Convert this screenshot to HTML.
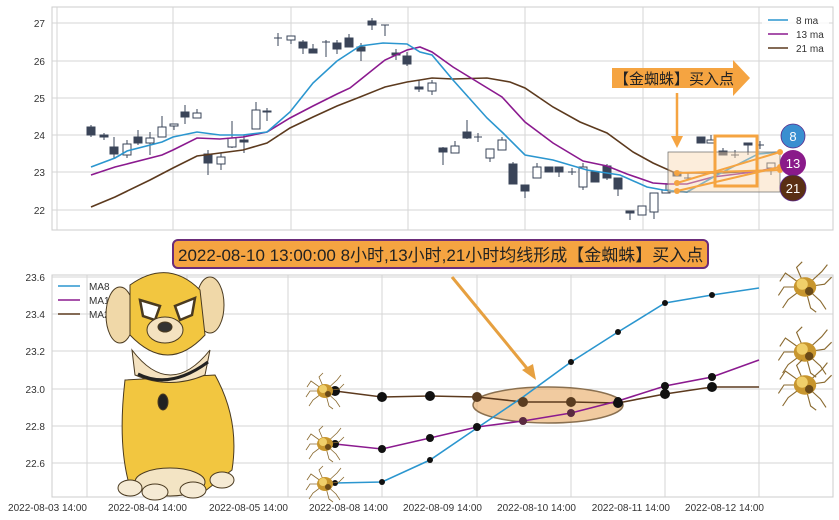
<!DOCTYPE html>
<html><head><meta charset="utf-8"><style>
html,body{margin:0;padding:0;background:#fff;width:839px;height:520px;overflow:hidden}
svg text{font-family:"Liberation Sans","Noto Sans CJK SC",sans-serif}
</style></head><body>
<svg width="839" height="520" viewBox="0 0 839 520" xmlns="http://www.w3.org/2000/svg">
<defs>
<g id="spider">
<g stroke="#8a6a30" stroke-width="0.8" fill="none">
<path d="M0 0 L-14 -10 L-18 -4"/><path d="M0 0 L-15 0 L-19 6"/><path d="M0 0 L-12 9 L-16 15"/><path d="M0 0 L-6 -14 L-2 -18"/>
<path d="M0 0 L12 -11 L16 -16"/><path d="M0 0 L14 -2 L19 -7"/><path d="M0 0 L11 10 L15 16"/><path d="M0 0 L4 15 L8 18"/>
</g>
<ellipse cx="0" cy="0" rx="8" ry="7" fill="#c8962e"/><circle cx="-2" cy="-2" r="4" fill="#f0cf6a"/><circle cx="3" cy="3" r="3" fill="#6a4a18"/>
</g>
</defs>

<!-- TOP PANEL -->
<rect x="52" y="7" width="781" height="223" fill="#fff" stroke="#ccc"/>
<g stroke="#d5d5d5" stroke-width="1">
<line x1="57" y1="7" x2="57" y2="230"/><line x1="173" y1="7" x2="173" y2="230"/><line x1="291" y1="7" x2="291" y2="230"/><line x1="408" y1="7" x2="408" y2="230"/><line x1="525" y1="7" x2="525" y2="230"/><line x1="643" y1="7" x2="643" y2="230"/><line x1="759" y1="7" x2="759" y2="230"/>
<line x1="52" y1="23" x2="833" y2="23"/><line x1="52" y1="61" x2="833" y2="61"/><line x1="52" y1="98" x2="833" y2="98"/><line x1="52" y1="135" x2="833" y2="135"/><line x1="52" y1="172" x2="833" y2="172"/><line x1="52" y1="210" x2="833" y2="210"/>
</g>
<g font-size="10" fill="#333" text-anchor="end">
<text x="45" y="27">27</text><text x="45" y="65">26</text><text x="45" y="102">25</text><text x="45" y="139">24</text><text x="45" y="176">23</text><text x="45" y="214">22</text>
</g>
<!-- candles -->
<g stroke="#3a4458" stroke-width="1">
<script type="text/plain"></script>
</g>
<g id="candles" stroke="#3a4458" stroke-width="1">
<line x1="91" y1="125" x2="91" y2="137"/><rect x="87" y="127" width="8" height="8" fill="#3a4458"/>
<line x1="104" y1="133" x2="104" y2="140"/><rect x="100" y="135" width="8" height="2" fill="#3a4458"/>
<line x1="114" y1="137" x2="114" y2="158"/><rect x="110" y="147" width="8" height="7" fill="#3a4458"/>
<line x1="127" y1="140" x2="127" y2="158"/><rect x="123" y="144" width="8" height="11" fill="#fff"/>
<line x1="138" y1="130" x2="138" y2="145"/><rect x="134" y="137" width="8" height="6" fill="#3a4458"/>
<line x1="150" y1="132" x2="150" y2="155"/><rect x="146" y="138" width="8" height="5" fill="#fff"/>
<line x1="162" y1="116" x2="162" y2="137"/><rect x="158" y="127" width="8" height="10" fill="#fff"/>
<line x1="174" y1="124" x2="174" y2="130"/><rect x="170" y="124" width="8" height="2" fill="#fff"/>
<line x1="185" y1="105" x2="185" y2="124"/><rect x="181" y="112" width="8" height="5" fill="#3a4458"/>
<line x1="197" y1="109" x2="197" y2="118"/><rect x="193" y="113" width="8" height="5" fill="#fff"/>
<line x1="208" y1="150" x2="208" y2="175"/><rect x="204" y="154" width="8" height="9" fill="#3a4458"/>
<line x1="221" y1="153" x2="221" y2="170"/><rect x="217" y="157" width="8" height="7" fill="#fff"/>
<line x1="232" y1="121" x2="232" y2="148"/><rect x="228" y="138" width="8" height="9" fill="#fff"/>
<line x1="244" y1="135" x2="244" y2="153"/><rect x="240" y="140" width="8" height="2" fill="#3a4458"/>
<line x1="256" y1="102" x2="256" y2="129"/><rect x="252" y="110" width="8" height="19" fill="#fff"/>
<line x1="267" y1="108" x2="267" y2="121"/><rect x="263" y="111" width="8" height="1" fill="#3a4458"/>
<line x1="278" y1="33" x2="278" y2="46"/><line x1="274" y1="38" x2="282" y2="38"/>
<line x1="291" y1="36" x2="291" y2="44"/><rect x="287" y="36" width="8" height="4" fill="#fff"/>
<line x1="303" y1="40" x2="303" y2="54"/><rect x="299" y="42" width="8" height="6" fill="#3a4458"/>
<line x1="313" y1="44" x2="313" y2="53"/><rect x="309" y="49" width="8" height="4" fill="#3a4458"/>
<line x1="326" y1="40" x2="326" y2="57"/><line x1="322" y1="42" x2="330" y2="42"/>
<line x1="337" y1="40" x2="337" y2="54"/><rect x="333" y="43" width="8" height="6" fill="#3a4458"/>
<line x1="349" y1="34" x2="349" y2="47"/><rect x="345" y="38" width="8" height="9" fill="#3a4458"/>
<line x1="361" y1="43" x2="361" y2="61"/><rect x="357" y="47" width="8" height="4" fill="#3a4458"/>
<line x1="372" y1="18" x2="372" y2="30"/><rect x="368" y="21" width="8" height="4" fill="#3a4458"/>
<line x1="385" y1="25" x2="385" y2="36"/><line x1="381" y1="25" x2="389" y2="25"/>
<line x1="396" y1="49" x2="396" y2="60"/><rect x="392" y="53" width="8" height="2" fill="#3a4458"/>
<line x1="407" y1="52" x2="407" y2="66"/><rect x="403" y="56" width="8" height="8" fill="#3a4458"/>
<line x1="419" y1="80" x2="419" y2="92"/><rect x="415" y="87" width="8" height="2" fill="#3a4458"/>
<line x1="432" y1="80" x2="432" y2="95"/><rect x="428" y="83" width="8" height="8" fill="#fff"/>
<line x1="443" y1="147" x2="443" y2="165"/><rect x="439" y="148" width="8" height="4" fill="#3a4458"/>
<line x1="455" y1="141" x2="455" y2="153"/><rect x="451" y="146" width="8" height="7" fill="#fff"/>
<line x1="467" y1="120" x2="467" y2="139"/><rect x="463" y="132" width="8" height="6" fill="#3a4458"/>
<line x1="478" y1="133" x2="478" y2="142"/><line x1="474" y1="137" x2="482" y2="137"/>
<line x1="490" y1="149" x2="490" y2="162"/><rect x="486" y="149" width="8" height="9" fill="#fff"/>
<line x1="502" y1="137" x2="502" y2="150"/><rect x="498" y="140" width="8" height="10" fill="#fff"/>
<line x1="513" y1="162" x2="513" y2="184"/><rect x="509" y="164" width="8" height="20" fill="#3a4458"/>
<line x1="525" y1="185" x2="525" y2="198"/><rect x="521" y="185" width="8" height="6" fill="#3a4458"/>
<line x1="537" y1="163" x2="537" y2="178"/><rect x="533" y="167" width="8" height="11" fill="#fff"/>
<rect x="545" y="167" width="8" height="5" fill="#3a4458"/>
<line x1="559" y1="167" x2="559" y2="177"/><rect x="555" y="167" width="8" height="5" fill="#3a4458"/>
<line x1="572" y1="168" x2="572" y2="175"/><line x1="568" y1="172" x2="576" y2="172"/>
<line x1="583" y1="163" x2="583" y2="190"/><rect x="579" y="167" width="8" height="20" fill="#fff"/>
<rect x="591" y="172" width="8" height="10" fill="#3a4458"/>
<line x1="607" y1="164" x2="607" y2="180"/><rect x="603" y="166" width="8" height="12" fill="#3a4458"/>
<line x1="618" y1="178" x2="618" y2="196"/><rect x="614" y="178" width="8" height="11" fill="#3a4458"/>
<line x1="630" y1="211" x2="630" y2="220"/><rect x="626" y="211" width="8" height="2" fill="#3a4458"/>
<rect x="638" y="206" width="8" height="9" fill="#fff"/>
<line x1="654" y1="193" x2="654" y2="219"/><rect x="650" y="193" width="8" height="19" fill="#fff"/>
<line x1="666" y1="183" x2="666" y2="193"/><rect x="662" y="190" width="8" height="3" fill="#fff"/>
<rect x="673" y="172" width="8" height="4" fill="#3a4458"/>
<line x1="688" y1="173" x2="688" y2="180"/><line x1="684" y1="178" x2="692" y2="178"/>
<rect x="697" y="137" width="8" height="6" fill="#3a4458"/>
<line x1="711" y1="135" x2="711" y2="143"/><rect x="707" y="140" width="8" height="3" fill="#fff"/>
<line x1="723" y1="148" x2="723" y2="155"/><rect x="719" y="151" width="8" height="4" fill="#3a4458"/>
<line x1="735" y1="150" x2="735" y2="158"/><line x1="731" y1="155" x2="739" y2="155"/>
<line x1="748" y1="143" x2="748" y2="155"/><rect x="744" y="143" width="8" height="2" fill="#3a4458"/>
<line x1="760" y1="141" x2="760" y2="149"/><line x1="756" y1="145" x2="764" y2="145"/>
<line x1="771" y1="163" x2="771" y2="175"/><rect x="767" y="163" width="8" height="5" fill="#fff"/>
</g>
<!-- MA lines top -->
<g fill="none" stroke-width="1.6">
<polyline stroke="#5c3a1e" points="91,207 115,197 150,180 173,168 197,156 220,153 243,150 267,143 290,128 313,117 337,106 360,97 385,87 407,82 420,80 432,78 453,79 487,78 510,82 525,88 553,107 580,122 607,133 633,152 653,163 673,172 687,173 720,173 780,170"/>
<polyline stroke="#8b1a8f" points="91,175 115,167 127,164 162,155 173,150 197,138 220,139 243,137 267,132 290,118 313,106 337,94 350,88 360,80 385,60 407,50 420,47 432,52 453,67 502,97 525,122 553,143 583,161 607,166 627,174 653,183 667,184 687,184 713,177 753,172 780,167"/>
<polyline stroke="#2b96cf" points="91,167 115,158 127,151 162,142 173,137 197,132 220,135 243,135 267,132 290,112 313,83 337,61 360,46 383,43 407,44 420,52 432,55 453,80 487,118 503,133 525,155 553,160 587,170 620,175 647,187 663,190 687,192 717,175 758,154 780,152"/>
</g>
<!-- annotations top -->
<rect x="668" y="152" width="112" height="40" fill="#f8d6b0" fill-opacity="0.45" stroke="#666" stroke-width="0.7"/>
<rect x="715" y="136" width="42" height="50" fill="none" stroke="#f5a441" stroke-width="3"/>
<g stroke="#f5a441" stroke-width="2">
<line x1="677" y1="173" x2="780" y2="170"/><line x1="677" y1="183" x2="780" y2="152"/><line x1="677" y1="191" x2="780" y2="167"/>
</g>
<g fill="#f5a441"><circle cx="677" cy="173" r="3"/><circle cx="677" cy="183" r="3"/><circle cx="677" cy="191" r="3"/><circle cx="780" cy="152" r="3"/><circle cx="780" cy="167" r="3"/><circle cx="780" cy="170" r="3"/></g>
<line x1="677" y1="93" x2="677" y2="138" stroke="#f5a441" stroke-width="2.5"/>
<polygon points="671,136 683,136 677,148" fill="#f5a441"/>
<polygon points="612,68 733,68 733,60 750,78 733,96 733,88 612,88" fill="#f5a441"/>
<text x="614" y="84" font-size="15" fill="#222">【金蜘蛛】买入点</text>
<circle cx="793" cy="136" r="12" fill="#3a8fd0" stroke="#5a2a8a" stroke-width="0.8"/><text x="793" y="141" font-size="13" fill="#fff" text-anchor="middle">8</text>
<circle cx="793" cy="163" r="13" fill="#8a1a8a"/><text x="793" y="168" font-size="13" fill="#fff" text-anchor="middle">13</text>
<circle cx="793" cy="188" r="13" fill="#5a2f14" stroke="#5a2a8a" stroke-width="0.8"/><text x="793" y="193" font-size="13" fill="#fff" text-anchor="middle">21</text>
<!-- legend top -->
<rect x="762" y="10" width="67" height="46" fill="#fff" fill-opacity="0.8"/>
<g stroke-width="1.6"><line x1="768" y1="20" x2="788" y2="20" stroke="#2b96cf"/><line x1="768" y1="34" x2="788" y2="34" stroke="#8b1a8f"/><line x1="768" y1="48" x2="788" y2="48" stroke="#5c3a1e"/></g>
<g font-size="10" fill="#333"><text x="796" y="24">8 ma</text><text x="796" y="38">13 ma</text><text x="796" y="52">21 ma</text></g>

<!-- BOTTOM PANEL -->
<rect x="52" y="275" width="781" height="222" fill="#fff" stroke="#ccc"/>
<g stroke="#d5d5d5">
<line x1="87" y1="275" x2="87" y2="497"/><line x1="187" y1="275" x2="187" y2="497"/><line x1="288" y1="275" x2="288" y2="497"/><line x1="382" y1="275" x2="382" y2="497"/><line x1="477" y1="275" x2="477" y2="497"/><line x1="571" y1="275" x2="571" y2="497"/><line x1="665" y1="275" x2="665" y2="497"/><line x1="759" y1="275" x2="759" y2="497"/>
<line x1="52" y1="277" x2="833" y2="277"/><line x1="52" y1="314" x2="833" y2="314"/><line x1="52" y1="351" x2="833" y2="351"/><line x1="52" y1="389" x2="833" y2="389"/><line x1="52" y1="426" x2="833" y2="426"/><line x1="52" y1="463" x2="833" y2="463"/>
</g>
<g font-size="10" fill="#333" text-anchor="end">
<text x="45" y="281">23.6</text><text x="45" y="318">23.4</text><text x="45" y="355">23.2</text><text x="45" y="393">23.0</text><text x="45" y="430">22.8</text><text x="45" y="467">22.6</text>
<text x="87" y="511">2022-08-03 14:00</text><text x="187" y="511">2022-08-04 14:00</text><text x="288" y="511">2022-08-05 14:00</text><text x="388" y="511">2022-08-08 14:00</text><text x="482" y="511">2022-08-09 14:00</text><text x="576" y="511">2022-08-10 14:00</text><text x="670" y="511">2022-08-11 14:00</text><text x="764" y="511">2022-08-12 14:00</text>
</g>
<g stroke-width="1.6"><line x1="58" y1="286" x2="80" y2="286" stroke="#2b96cf"/><line x1="58" y1="300" x2="80" y2="300" stroke="#8b1a8f"/><line x1="58" y1="314" x2="80" y2="314" stroke="#5c3a1e"/></g>
<g font-size="10" fill="#333"><text x="89" y="290">MA8</text><text x="89" y="304">MA13</text><text x="89" y="318">MA21</text></g>

<ellipse cx="548" cy="405" rx="75" ry="18" fill="#e8a860" fill-opacity="0.6" stroke="#8a7050" stroke-width="1.5"/>
<g fill="none" stroke-width="1.6">
<polyline stroke="#5c3a1e" points="335,391 382,397 430,396 477,397 523,402 571,402 618,403 665,394 712,387 759,387"/>
<polyline stroke="#8b1a8f" points="335,444 382,449 430,438 477,427 523,421 571,413 618,401 665,386 712,377 759,360"/>
<polyline stroke="#2b96cf" points="335,483 382,482 430,460 477,428 523,397 571,362 618,332 665,303 712,295 759,288"/>
</g>
<g fill="#111">
<circle cx="335" cy="391" r="5"/><circle cx="382" cy="397" r="5"/><circle cx="430" cy="396" r="5"/><circle cx="477" cy="397" r="5" fill="#5a3c20"/><circle cx="523" cy="402" r="5" fill="#5a3c20"/><circle cx="571" cy="402" r="5" fill="#5a3c20"/><circle cx="618" cy="403" r="5"/><circle cx="665" cy="394" r="5"/><circle cx="712" cy="387" r="5"/>
<circle cx="335" cy="444" r="4"/><circle cx="382" cy="449" r="4"/><circle cx="430" cy="438" r="4"/><circle cx="477" cy="427" r="4"/><circle cx="523" cy="421" r="4" fill="#5a2a40"/><circle cx="571" cy="413" r="4" fill="#5a2a40"/><circle cx="618" cy="401" r="4"/><circle cx="665" cy="386" r="4"/><circle cx="712" cy="377" r="4"/>
<circle cx="335" cy="483" r="3"/><circle cx="382" cy="482" r="3"/><circle cx="430" cy="460" r="3"/><circle cx="477" cy="428" r="3"/><circle cx="571" cy="362" r="3"/><circle cx="618" cy="332" r="3"/><circle cx="665" cy="303" r="3"/><circle cx="712" cy="295" r="3"/>
</g>
<use href="#spider" x="325" y="391"/><use href="#spider" x="325" y="444"/><use href="#spider" x="325" y="484"/>
<use href="#spider" transform="translate(805,287) scale(1.4)"/><use href="#spider" transform="translate(805,352) scale(1.4)"/><use href="#spider" transform="translate(805,385) scale(1.4)"/>
<line x1="452" y1="277" x2="530" y2="372" stroke="#e6a040" stroke-width="3"/>
<polygon points="522,370 536,380 533,364" fill="#e6a040"/>

<!-- dog -->
<g stroke="#4a3a20" stroke-width="1">
<ellipse cx="120" cy="315" rx="14" ry="28" fill="#f0d8a8"/><ellipse cx="210" cy="305" rx="14" ry="28" fill="#f0d8a8"/>
<path d="M125 380 Q118 440 128 480 L150 495 L200 495 L232 470 Q240 420 215 375 Z" fill="#f2c640"/>
<ellipse cx="170" cy="482" rx="35" ry="14" fill="#f3e4c4"/>
<ellipse cx="130" cy="488" rx="12" ry="8" fill="#f5ead4"/><ellipse cx="155" cy="492" rx="13" ry="8" fill="#f5ead4"/><ellipse cx="193" cy="490" rx="13" ry="8" fill="#f5ead4"/><ellipse cx="222" cy="480" rx="12" ry="8" fill="#f5ead4"/>
<path d="M132 350 Q170 400 210 350 L205 375 Q170 390 135 375 Z" fill="#f4e2c0"/>
<path d="M130 285 Q168 258 200 290 L205 335 Q168 375 130 335 Z" fill="#f2c640"/>
<path d="M140 300 L160 306 L155 320 L143 316 Z" fill="#fff" stroke-width="2.5"/><path d="M195 298 L175 306 L180 320 L192 315 Z" fill="#fff" stroke-width="2.5"/>
<ellipse cx="165" cy="330" rx="18" ry="13" fill="#f4e2c0"/><ellipse cx="165" cy="327" rx="7" ry="5" fill="#333"/>
<path d="M138 374 Q170 390 208 362" fill="none" stroke="#222" stroke-width="3"/>
<ellipse cx="163" cy="402" rx="5" ry="8" fill="#222"/>
</g>

<!-- big annotation -->
<rect x="173" y="240" width="535" height="28" rx="5" fill="#f5a441" stroke="#6a2c7a" stroke-width="2"/>
<text x="178" y="261" font-size="17" fill="#222">2022-08-10 13:00:00 8小时,13小时,21小时均线形成【金蜘蛛】买入点</text>
</svg>
</body></html>
